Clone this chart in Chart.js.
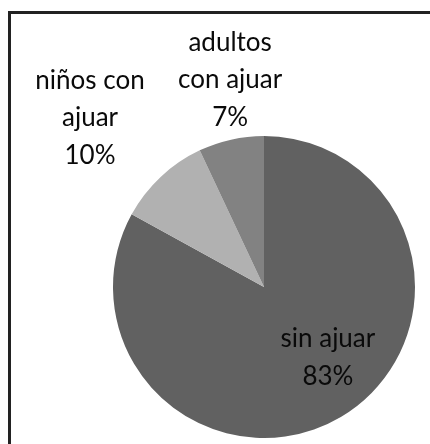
<!DOCTYPE html>
<html>
<head>
<meta charset="utf-8">
<script src="https://cdn.jsdelivr.net/npm/chart.js@4/dist/chart.umd.min.js"></script>
<style>
  html, body { margin: 0; padding: 0; background: #fff; overflow: hidden; }
  #wrap { position: relative; width: 430px; height: 444px; }
  #frame { position: absolute; left: 8px; top: 11px; width: 600px; height: 600px; border-left: 3px solid #222; border-top: 3px solid #222; }
  canvas { position: absolute; left: 0; top: 0; }
</style>
</head>
<body>
<div id="wrap">
  <div id="frame"></div>
  <canvas id="c" width="430" height="444"></canvas>
</div>
<script>
const categories = [["sin ajuar"], ["niños con", "ajuar"], ["adultos", "con ajuar"]];
const percentages = [83, 10, 7];
const sliceColors = ["#616161", "#b1b1b1", "#828282"];

// label placement per slice: radial factor and angle shift (deg) from mid-angle
const labelPlacement = [
  { f: 0.63, shift: -11.6 },
  { f: 1.607, shift: -2.6 },
  { f: 1.389, shift: 3.3 }
];

const pieLabels = {
  id: 'pieLabels',
  afterDatasetsDraw(chart) {
    const ctx = chart.ctx;
    const meta = chart.getDatasetMeta(0);
    ctx.save();
    ctx.font = '26px Lato, "Open Sans", sans-serif';
    ctx.fillStyle = '#0a0a0a';
    ctx.textAlign = 'center';
    ctx.textBaseline = 'middle';
    const lh = 37.5;
    meta.data.forEach((arc, i) => {
      const p = arc.getProps(['x', 'y', 'startAngle', 'endAngle', 'outerRadius'], true);
      const mid = (p.startAngle + p.endAngle) / 2 + labelPlacement[i].shift * Math.PI / 180;
      const r = p.outerRadius * labelPlacement[i].f;
      const cx = p.x + Math.cos(mid) * r;
      const cy = p.y + Math.sin(mid) * r;
      const lines = categories[i].concat([percentages[i] + '%']);
      const y0 = cy - (lines.length - 1) * lh / 2;
      lines.forEach((t, k) => ctx.fillText(t, cx, y0 + k * lh));
    });
    ctx.restore();
  }
};

new Chart(document.getElementById('c'), {
  type: 'pie',
  data: {
    labels: categories.map(c => c.join(' ')),
    datasets: [{
      data: percentages,
      backgroundColor: sliceColors,
      borderWidth: 0
    }]
  },
  options: {
    responsive: false,
    animation: false,
    layout: { padding: { left: 113, right: 15, top: 136, bottom: 6 } },
    plugins: { legend: { display: false }, tooltip: { enabled: false } }
  },
  plugins: [pieLabels]
});
</script>
</body>
</html>
